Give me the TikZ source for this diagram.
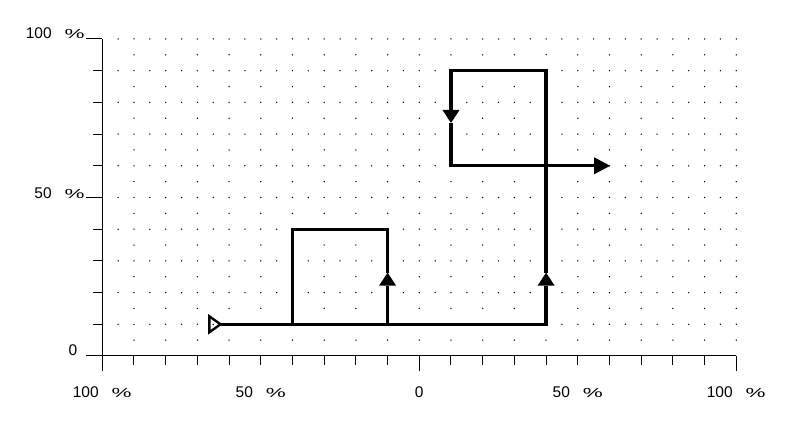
\documentclass[tikz,border=0pt]{standalone}
\usepackage{fontspec}
\setmainfont{Liberation Sans}
\usepackage{graphicx}
\usetikzlibrary{arrows.meta}
\newcommand{\pcsign}{\scalebox{1.45}[0.85]{\%}}
\newcommand{\pclabel}[1]{#1\hspace{13pt}\pcsign}

\begin{document}
\begin{tikzpicture}[x=3.17pt, y=3.17pt,
  axis/.style={line width=1pt, black},
  lbl/.style={inner sep=0pt, font=\fontsize{15.5}{18}\selectfont},
  flow/.style={line width=3.2pt, line join=miter, line cap=butt},
  midarr/.style={-{Triangle[length=13pt, width=17pt, line width=0pt]}},
  endarr/.style={-{Triangle[length=16pt, width=17pt, line width=0pt]}}]
\useasboundingbox (-132.27,-21.77) rectangle (117.26,112.3);
% Dot grid
\foreach \y in {10,20,...,100}
  \foreach \x in {-95,-90,...,100}
    \fill (\x,\y) circle[radius=0.75pt];
\foreach \y in {5,15,...,95}
  \foreach \x in {-90,-80,...,100}
    \fill (\x,\y) circle[radius=0.75pt];
% Axes and ticks
\draw[axis] (-100,100) -- (-100,-4.73);
\draw[axis] (-105.1,0) -- (100,0);
\foreach \y in {10,20,30,40,60,70,80,90}
  \draw[axis] (-100,\y) -- (-102.84,\y);
\foreach \y in {50,100}
  \draw[axis] (-100,\y) -- (-105.1,\y);
\foreach \x in {-90,-80,...,90}
  \draw[axis] (\x,0) -- (\x,-2.84);
\foreach \x in {0,100}
  \draw[axis] (\x,0) -- (\x,-4.73);
% Axis labels
\node[lbl, anchor=base east] (ytop) at (-105.5,100) {\pclabel{100}};
\node[lbl, anchor=base east] (ymid) at (-105.5,49.6) {\pclabel{50}};
\node[lbl, anchor=base east] (ybot) at (-107.8,0) {0};
\node[lbl, anchor=base] (xleft) at (-100,-13.15) {\pclabel{100}};
\node[lbl, anchor=base] (xlmid) at (-50,-13.15) {\pclabel{50}};
\node[lbl, anchor=base] (xzero) at (0,-13.15) {0};
\node[lbl, anchor=base] (xrmid) at (50,-13.15) {\pclabel{50}};
\node[lbl, anchor=base] (xright) at (100,-13.15) {\pclabel{100}};
% Path corners
\coordinate (entry) at (-62.7,10);
\coordinate (loopa) at (-10,10);
\coordinate (arra) at (-10,26.3);
\coordinate (loopb) at (-10,40);
\coordinate (loopc) at (-40,40);
\coordinate (loopd) at (-40,10);
\coordinate (risea) at (40,10);
\coordinate (arrb) at (40,26.3);
\coordinate (riseb) at (40,90);
\coordinate (topl) at (10,90);
\coordinate (arrc) at (10,73.5);
\coordinate (turn) at (10,60);
\coordinate (exit) at (60.2,60);
% Start marker
\draw[line width=2.4pt, line join=miter] (-66.2,12.5) -- (entry) -- (-66.2,7.5) -- cycle;
% Flow line
\draw[flow, midarr] (entry) -- (loopa) -- (arra);
\draw[flow, midarr] (arra) -- (loopb) -- (loopc) -- (loopd) -- (risea) -- (arrb);
\draw[flow, midarr] (arrb) -- (riseb) -- (topl) -- (arrc);
\draw[flow, endarr] (arrc) -- (turn) -- (exit);
\end{tikzpicture}
\end{document}
